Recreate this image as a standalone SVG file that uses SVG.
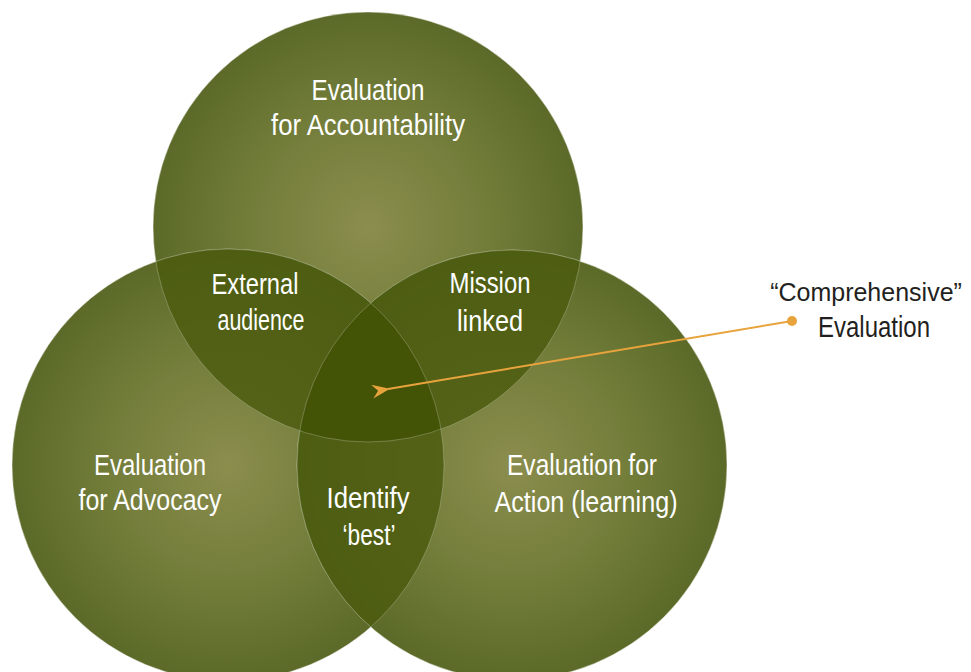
<svg xmlns="http://www.w3.org/2000/svg" width="971" height="672" viewBox="0 0 971 672">
<defs>
<radialGradient id="gT" cx="368" cy="227" r="215" gradientUnits="userSpaceOnUse">
<stop offset="0" stop-color="#8b8d4d"/><stop offset="0.55" stop-color="#737d3a"/><stop offset="1" stop-color="#5b6a28"/>
</radialGradient>
<radialGradient id="gL" cx="228" cy="465" r="216" gradientUnits="userSpaceOnUse">
<stop offset="0" stop-color="#8b8d4d"/><stop offset="0.55" stop-color="#737d3a"/><stop offset="1" stop-color="#5b6a28"/>
</radialGradient>
<radialGradient id="gR" cx="512" cy="465" r="215" gradientUnits="userSpaceOnUse">
<stop offset="0" stop-color="#8b8d4d"/><stop offset="0.55" stop-color="#737d3a"/><stop offset="1" stop-color="#5b6a28"/>
</radialGradient>
<clipPath id="cT"><circle cx="368" cy="227" r="215"/></clipPath>
<clipPath id="cL"><circle cx="228" cy="465" r="216"/></clipPath>
<clipPath id="cR"><circle cx="512" cy="465" r="215"/></clipPath>
<marker id="ah" viewBox="0 0 18 14" refX="2" refY="7" markerWidth="18" markerHeight="14" markerUnits="userSpaceOnUse" orient="auto">
<path d="M0,7 L18,0 L12,7 L18,14 Z" fill="#e8a33d"/>
</marker>
<style>
.c{stroke:#ffffff;stroke-opacity:0.3;stroke-width:0.8}
.ov{fill:#4a5a0e;fill-opacity:0.82}
.ln{fill:none;stroke:#ffffff;stroke-opacity:0.3;stroke-width:0.8}
.w{fill:#ffffff;font-family:"Liberation Sans",Arial,sans-serif;font-size:29px;text-anchor:middle}
.d{fill:#231f20;font-family:"Liberation Sans",Arial,sans-serif;font-size:29px;text-anchor:middle}
</style>
</defs>
<rect width="971" height="672" fill="#ffffff"/>
<g id="circle-accountability">
<circle class="c" cx="368" cy="227" r="215" fill="url(#gT)"/>
</g>
<g id="circle-advocacy">
<circle class="c" cx="228" cy="465" r="216" fill="url(#gL)"/>
</g>
<g id="circle-action">
<circle class="c" cx="512" cy="465" r="215" fill="url(#gR)"/>
</g>
<g id="overlaps">
<g clip-path="url(#cT)"><circle class="ov" cx="228" cy="465" r="216"/></g>
<g clip-path="url(#cT)"><circle class="ov" cx="512" cy="465" r="215"/></g>
<g clip-path="url(#cL)"><circle class="ov" cx="512" cy="465" r="215"/></g>
<g clip-path="url(#cT)"><g clip-path="url(#cL)"><circle cx="512" cy="465" r="215" fill="#3e5002" fill-opacity="0.55"/></g></g>
<circle class="ln" cx="368" cy="227" r="215"/>
<circle class="ln" cx="228" cy="465" r="216"/>
<circle class="ln" cx="512" cy="465" r="215"/>
</g>
<g id="label-accountability">
<text class="w" x="368" y="100" textLength="113" lengthAdjust="spacingAndGlyphs">Evaluation</text>
<text class="w" x="368" y="135" textLength="194" lengthAdjust="spacingAndGlyphs">for Accountability</text>
</g>
<g id="label-external">
<text class="w" x="255" y="294" textLength="87" lengthAdjust="spacingAndGlyphs">External</text>
<text class="w" x="261" y="330" textLength="87" lengthAdjust="spacingAndGlyphs">audience</text>
</g>
<g id="label-mission">
<text class="w" x="490" y="293" textLength="81" lengthAdjust="spacingAndGlyphs">Mission</text>
<text class="w" x="490" y="331" textLength="66" lengthAdjust="spacingAndGlyphs">linked</text>
</g>
<g id="label-advocacy">
<text class="w" x="150" y="475" textLength="112" lengthAdjust="spacingAndGlyphs">Evaluation</text>
<text class="w" x="150" y="510" textLength="143" lengthAdjust="spacingAndGlyphs">for Advocacy</text>
</g>
<g id="label-identify">
<text class="w" x="368" y="508" textLength="83" lengthAdjust="spacingAndGlyphs">Identify</text>
<text class="w" x="369" y="545" textLength="53" lengthAdjust="spacingAndGlyphs">‘best’</text>
</g>
<g id="label-action">
<text class="w" x="582" y="475" textLength="150" lengthAdjust="spacingAndGlyphs">Evaluation for</text>
<text class="w" x="586" y="512" textLength="183" lengthAdjust="spacingAndGlyphs">Action (learning)</text>
</g>
<g id="label-comprehensive">
<text class="d" x="866" y="301" style="font-size:25px">“Comprehensive”</text>
<text class="d" x="874" y="337" textLength="112" lengthAdjust="spacingAndGlyphs">Evaluation</text>
</g>
<g id="connectors">
<line x1="792" y1="321" x2="388" y2="389" stroke="#e8a33d" stroke-width="2" marker-end="url(#ah)"/>
<circle cx="792" cy="321" r="5" fill="#e8a33d"/>
</g>
</svg>
